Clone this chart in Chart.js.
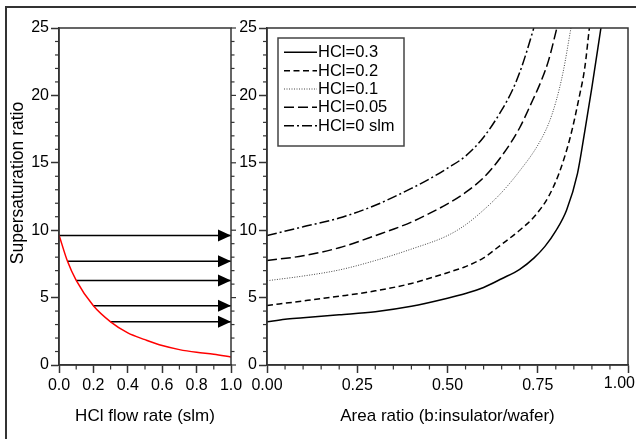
<!DOCTYPE html>
<html>
<head>
<meta charset="utf-8">
<script src="https://cdn.jsdelivr.net/npm/chart.js@4"></script>
<style>
    html, body { margin: 0; padding: 0; background: #fff; overflow: hidden; }
    #wrap { position: relative; width: 636px; height: 439px; overflow: hidden; }
    #frame { position: absolute; left: 5px; top: 6px; width: 700px; height: 500px; border-left: 2px solid #333; border-top: 2px solid #333; }
    canvas { position: absolute; left: 0; top: 0; }
</style>
</head>
<body>
<div id="wrap">
    <div id="frame"></div>
    <canvas id="flowChart" width="636" height="439"></canvas>
    <canvas id="areaChart" width="636" height="439"></canvas>
</div>
<script>
// left panel: supersaturation vs HCl flow rate (red curve)
const flowRate = [0, 0.05, 0.1, 0.2, 0.3, 0.4, 0.5, 0.6, 0.7, 0.8, 0.9, 1.0];
const flowSat = [9.65, 7.67, 6.28, 4.39, 3.2, 2.38, 1.88, 1.44, 1.14, 0.94, 0.8, 0.6];

// arrows carried over to the right panel
const arrowFrom = [0, 0.05, 0.1, 0.2, 0.3];
const arrowSat = [9.6, 7.7, 6.27, 4.4, 3.2];

// right panel: supersaturation vs area ratio
const hclLabels = ['HCl=0.3', 'HCl=0.2', 'HCl=0.1', 'HCl=0.05', 'HCl=0 slm'];
const area03 = [0, 0.05, 0.1, 0.2, 0.3, 0.4, 0.5, 0.55, 0.6, 0.65, 0.7, 0.74, 0.77, 0.8, 0.83, 0.86, 0.88, 0.9, 0.925];
const sat03 = [3.2, 3.4, 3.5, 3.72, 3.95, 4.35, 4.95, 5.3, 5.75, 6.4, 7.1, 7.95, 8.8, 9.95, 11.5, 14.2, 17.3, 20.6, 25];
const area02 = [0, 0.1, 0.2, 0.3, 0.4, 0.5, 0.55, 0.6, 0.65, 0.7, 0.74, 0.78, 0.81, 0.84, 0.865, 0.88, 0.893];
const sat02 = [4.42, 4.75, 5.1, 5.5, 6.05, 6.85, 7.3, 7.95, 8.95, 10.0, 11.0, 12.5, 14.3, 16.9, 19.9, 22.0, 25];
const area01 = [0, 0.1, 0.2, 0.3, 0.4, 0.5, 0.55, 0.6, 0.65, 0.7, 0.75, 0.78, 0.8, 0.82, 0.842];
const sat01 = [6.25, 6.6, 7.05, 7.75, 8.6, 9.6, 10.4, 11.5, 12.8, 14.4, 16.3, 17.9, 19.5, 21.7, 25];
const area005 = [0, 0.1, 0.2, 0.3, 0.4, 0.45, 0.5, 0.55, 0.6, 0.65, 0.7, 0.73, 0.76, 0.78, 0.803];
const sat005 = [7.75, 8.1, 8.7, 9.6, 10.6, 11.25, 11.95, 12.8, 13.9, 15.5, 17.6, 19.3, 21.1, 22.6, 25];
const area0 = [0, 0.1, 0.2, 0.3, 0.4, 0.45, 0.5, 0.55, 0.6, 0.65, 0.68, 0.7, 0.72, 0.739];
const sat0 = [9.6, 10.25, 10.9, 11.85, 13.1, 13.8, 14.6, 15.5, 16.9, 18.9, 20.4, 21.7, 23.3, 25];

const FONT = '"Liberation Sans", Arial, sans-serif';
const INK = '#333';

Chart.defaults.font.family = FONT;
Chart.defaults.color = '#000';

function pairs(xs, ys) {
    return xs.map((x, i) => ({ x: x, y: ys[i] }));
}

// box around the plot area
const frameBox = {
    id: 'frameBox',
    afterDraw(chart) {
        const { ctx, chartArea: a } = chart;
        ctx.save();
        ctx.strokeStyle = INK;
        ctx.lineWidth = 1.5;
        ctx.strokeRect(a.left, a.top, a.right - a.left, a.bottom - a.top);
        ctx.restore();
    }
};

// short ticks between the labelled ones
const minorTicks = {
    id: 'minorTicks',
    afterDraw(chart, args, opts) {
        const { ctx, chartArea: a } = chart;
        ctx.save();
        ctx.strokeStyle = INK;
        ctx.lineWidth = 1.2;
        (opts.marks || []).forEach(m => {
            const scale = chart.scales[m.axis];
            const n = Math.round((scale.max - scale.min) / m.step);
            for (let i = 0; i <= n; i++) {
                const major = i % m.every === 0;
                if (major && !m.majorLen) continue;
                const len = major ? m.majorLen : m.len;
                const p = scale.getPixelForValue(scale.min + i * m.step);
                ctx.beginPath();
                if (m.side === 'bottom') {
                    ctx.moveTo(p, a.bottom); ctx.lineTo(p, a.bottom + len);
                } else if (m.side === 'left') {
                    ctx.moveTo(a.left, p); ctx.lineTo(a.left - len, p);
                } else {
                    ctx.moveTo(a.right, p); ctx.lineTo(a.right + len, p);
                }
                ctx.stroke();
            }
        });
        ctx.restore();
    }
};

const arrowHeads = {
    id: 'arrowHeads',
    afterDatasetsDraw(chart) {
        const ctx = chart.ctx;
        chart.data.datasets.forEach((ds, i) => {
            if (!ds.arrow) return;
            const pts = chart.getDatasetMeta(i).data;
            const tip = pts[pts.length - 1];
            ctx.save();
            ctx.fillStyle = '#000';
            ctx.beginPath();
            ctx.moveTo(tip.x, tip.y);
            ctx.lineTo(tip.x - 13, tip.y - 6);
            ctx.lineTo(tip.x - 13, tip.y + 6);
            ctx.closePath();
            ctx.fill();
            ctx.restore();
        });
    }
};

const sideTitle = {
    id: 'sideTitle',
    afterDraw(chart, args, opts) {
        if (!opts.text) return;
        const ctx = chart.ctx;
        ctx.save();
        ctx.translate(opts.x, opts.y);
        ctx.rotate(-Math.PI / 2);
        ctx.font = opts.size + 'px ' + FONT;
        ctx.fillStyle = '#000';
        ctx.textAlign = 'center';
        ctx.textBaseline = 'middle';
        ctx.fillText(opts.text, 0, 0);
        ctx.restore();
    }
};

// last x label sits flush with the page edge instead of centred on its tick
const edgeLabel = {
    id: 'edgeLabel',
    afterDraw(chart, args, opts) {
        if (!opts.text) return;
        const ctx = chart.ctx;
        ctx.save();
        ctx.font = '16px ' + FONT;
        ctx.fillStyle = '#000';
        ctx.textAlign = 'right';
        ctx.textBaseline = 'top';
        ctx.fillText(opts.text, opts.right, chart.chartArea.bottom + 11);
        ctx.restore();
    }
};

const boxLegend = {
    id: 'boxLegend',
    afterDraw(chart, args, opts) {
        if (!opts.show) return;
        const ctx = chart.ctx;
        ctx.save();
        ctx.strokeStyle = '#444';
        ctx.lineWidth = 1.5;
        ctx.strokeRect(opts.left, opts.top, opts.width, opts.height);
        ctx.font = '16.5px ' + FONT;
        ctx.textBaseline = 'middle';
        chart.data.datasets.forEach((ds, i) => {
            const y = opts.top + opts.firstRow + i * opts.rowH;
            ctx.strokeStyle = ds.borderColor;
            ctx.lineWidth = ds.borderWidth;
            ctx.setLineDash(ds.borderDash || []);
            ctx.beginPath();
            ctx.moveTo(opts.left + 6, y);
            ctx.lineTo(opts.left + 39, y);
            ctx.stroke();
            ctx.setLineDash([]);
            ctx.fillStyle = '#000';
            ctx.fillText(ds.label, opts.left + 40, y + 0.5);
        });
        ctx.restore();
    }
};

function xAxis(step, digits, title, hideLast) {
    return {
        type: 'linear',
        min: 0,
        max: 1,
        afterFit(s) { s.height = 74; s.paddingLeft = 0; s.paddingRight = 0; },
        ticks: {
            stepSize: step,
            autoSkip: false,
            maxRotation: 0,
            padding: 3,
            font: { size: 16 },
            callback: v => (hideLast && v >= 1) ? '' : Number(v).toFixed(digits)
        },
        grid: { drawOnChartArea: false, tickLength: 8, tickColor: INK, tickWidth: 1.5 },
        border: { color: INK, width: 1.5 },
        title: { display: true, text: title, font: { size: 17 }, padding: { top: 0, bottom: 12 } }
    };
}

function yAxis(width) {
    return {
        type: 'linear',
        min: 0,
        max: 25,
        afterFit(s) { s.width = width; s.paddingTop = 0; s.paddingBottom = 0; },
        ticks: { stepSize: 5, padding: 2, font: { size: 16 } },
        grid: { drawOnChartArea: false, tickLength: 8, tickColor: INK, tickWidth: 1.5 },
        border: { color: INK, width: 1.5 }
    };
}

const flowDatasets = [{
    label: 'flow',
    data: pairs(flowRate, flowSat),
    borderColor: '#ff0000',
    borderWidth: 1.5,
    pointRadius: 0,
    cubicInterpolationMode: 'monotone'
}];
arrowFrom.forEach((x, i) => {
    flowDatasets.push({
        label: 'arrow' + i,
        arrow: true,
        data: [{ x: x, y: arrowSat[i] }, { x: 1, y: arrowSat[i] }],
        borderColor: '#000',
        borderWidth: 1.5,
        pointRadius: 0
    });
});

new Chart(document.getElementById('flowChart'), {
    type: 'line',
    data: { datasets: flowDatasets },
    options: {
        responsive: false,
        animation: false,
        layout: { padding: { left: 5, right: 405, top: 28, bottom: 0 } },
        scales: {
            x: xAxis(0.2, 1, 'HCl flow rate (slm)', false),
            y: yAxis(54)
        },
        plugins: {
            legend: { display: false },
            tooltip: { enabled: false },
            sideTitle: { text: 'Supersaturation ratio', x: 18.5, y: 183, size: 17.5 },
            minorTicks: {
                marks: [
                    { axis: 'x', side: 'bottom', step: 0.1, every: 2, len: 4.5 },
                    { axis: 'y', side: 'left', step: 1, every: 5, len: 4 },
                    { axis: 'y', side: 'right', step: 1, every: 5, len: 3.5, majorLen: 5 }
                ]
            }
        }
    },
    plugins: [frameBox, minorTicks, arrowHeads, sideTitle]
});

const areaSeries = [
    { xs: area03, ys: sat03, dash: [], width: 1.5, color: '#000' },
    { xs: area02, ys: sat02, dash: [6, 3.5], width: 1.5, color: '#000' },
    { xs: area01, ys: sat01, dash: [1, 1.5], width: 1, color: '#444' },
    { xs: area005, ys: sat005, dash: [10, 4], width: 1.5, color: '#000' },
    { xs: area0, ys: sat0, dash: [10, 3, 2, 3], width: 1.5, color: '#000' }
];

new Chart(document.getElementById('areaChart'), {
    type: 'line',
    data: {
        datasets: areaSeries.map((s, i) => ({
            label: hclLabels[i],
            data: pairs(s.xs, s.ys),
            borderColor: s.color,
            borderWidth: s.width,
            borderDash: s.dash,
            pointRadius: 0,
            cubicInterpolationMode: 'monotone'
        }))
    },
    options: {
        responsive: false,
        animation: false,
        layout: { padding: { left: 231, right: 8, top: 28, bottom: 0 } },
        scales: {
            x: xAxis(0.25, 2, 'Area ratio (b:insulator/wafer)', true),
            y: yAxis(36)
        },
        plugins: {
            legend: { display: false },
            tooltip: { enabled: false },
            edgeLabel: { text: '1.00', right: 635 },
            boxLegend: { show: true, left: 278, top: 38, width: 126, height: 108, firstRow: 14.3, rowH: 18.35 },
            minorTicks: {
                marks: [
                    { axis: 'x', side: 'bottom', step: 0.05, every: 5, len: 4.5 },
                    { axis: 'y', side: 'left', step: 1, every: 5, len: 4 }
                ]
            }
        }
    },
    plugins: [frameBox, minorTicks, boxLegend, edgeLabel]
});
</script>
</body>
</html>
